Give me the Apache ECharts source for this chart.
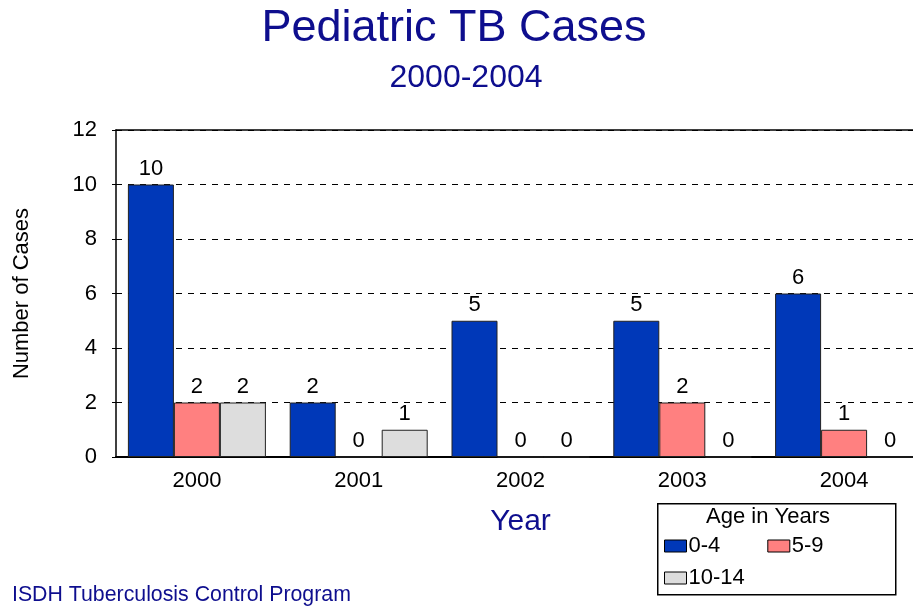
<!DOCTYPE html>
<html lang="en">
<head>
<meta charset="UTF-8">
<title>Pediatric TB Cases</title>
<script src="https://cdn.jsdelivr.net/npm/echarts@6/dist/echarts.min.js"></script>
<style>
  html, body { margin: 0; padding: 0; background: #fff; }
  #main { width: 913px; height: 608px; }
</style>
</head>
<body>
<div id="main"></div>
<script>
  // data
  var years = ['2000', '2001', '2002', '2003', '2004'];
  var age0to4 = [10, 2, 5, 5, 6];
  var age5to9 = [2, 0, 0, 2, 1];
  var age10to14 = [2, 1, 0, 0, 0];
  var yTicks = [0, 2, 4, 6, 8, 10, 12];

  var navy = '#0e0e8e';
  var font = 'Liberation Sans, Arial, sans-serif';

  var myChart = echarts.init(document.getElementById('main'));

  function barSeries(name, values, color) {
    return {
      name: name,
      type: 'bar',
      data: values,
      barWidth: 46,
      barGap: '0%',
      itemStyle: { color: color, borderColor: '#222', borderWidth: 1 },
      label: { show: true, position: 'top', color: '#000', fontSize: 22, fontFamily: font, distance: 5 }
    };
  }

  var option = {
    animation: false,
    backgroundColor: '#fff',
    title: [
      { text: 'Pediatric TB Cases', left: 449, top: 1, textAlign: 'center',
        textStyle: { color: navy, fontSize: 45, fontWeight: 'normal', fontFamily: font } },
      { text: '2000-2004', left: 461, top: 57, textAlign: 'center',
        textStyle: { color: navy, fontSize: 32, fontWeight: 'normal', fontFamily: font } },
      { text: 'ISDH Tuberculosis Control Program', left: 7, top: 580,
        textStyle: { color: navy, fontSize: 21.3, fontWeight: 'normal', fontFamily: font } }
    ],
    legend: [
      { data: ['0-4', '5-9'], left: 659, top: 530, icon: 'rect', itemWidth: 22, itemHeight: 12, itemGap: 47,
        itemStyle: { borderColor: '#000', borderWidth: 1 },
        textStyle: { fontSize: 22, fontFamily: font, color: '#000', padding: [0, 0, 0, -3] } },
      { data: ['10-14'], left: 659, top: 562, icon: 'rect', itemWidth: 22, itemHeight: 12,
        itemStyle: { borderColor: '#000', borderWidth: 1 },
        textStyle: { fontSize: 22, fontFamily: font, color: '#000', padding: [0, 0, 0, -3] } }
    ],
    graphic: [
      { type: 'rect', left: 657, top: 503, z: 0,
        shape: { width: 238, height: 91 },
        style: { fill: '#fff', stroke: '#000', lineWidth: 1.5 } },
      { type: 'text', x: 768, y: 506, z: 10,
        style: { text: 'Age in Years', textAlign: 'center', fill: '#000', fontSize: 22, fontFamily: font } }
    ],
    grid: { left: 116, top: 130, width: 809, height: 327, outerBoundsMode: 'none' },
    xAxis: [
      {
        type: 'category', data: years,
        name: 'Year', nameLocation: 'middle', nameGap: 50,
        nameTextStyle: { color: navy, fontSize: 30, fontFamily: font, padding: [0, 0, 0, 0] },
        axisLine: { lineStyle: { color: '#000', width: 2 } },
        axisTick: { show: false },
        axisLabel: { color: '#000', fontSize: 22, fontFamily: font, margin: 13 }
      },
      {
        type: 'category', data: years, position: 'top',
        axisLine: { show: true, lineStyle: { color: '#000', width: 1.5 } },
        axisTick: { show: false }, axisLabel: { show: false }
      }
    ],
    yAxis: {
      type: 'value', min: yTicks[0], max: yTicks[yTicks.length - 1], interval: 2,
      name: 'Number of Cases', nameLocation: 'middle', nameGap: 83, nameRotate: 90,
      nameTextStyle: { color: '#000', fontSize: 22, fontFamily: font },
      axisLine: { show: true, lineStyle: { color: '#000', width: 1.5 } },
      axisTick: { show: true, length: 4, lineStyle: { color: '#000' } },
      axisLabel: { color: '#000', fontSize: 22, fontFamily: font, margin: 19 },
      splitLine: { show: true, lineStyle: { color: '#000', type: [6, 6], width: 1 } }
    },
    series: [
      barSeries('0-4', age0to4, '#0038b8'),
      barSeries('5-9', age5to9, '#ff8080'),
      barSeries('10-14', age10to14, '#dddddd')
    ]
  };

  myChart.setOption(option);
</script>
</body>
</html>
